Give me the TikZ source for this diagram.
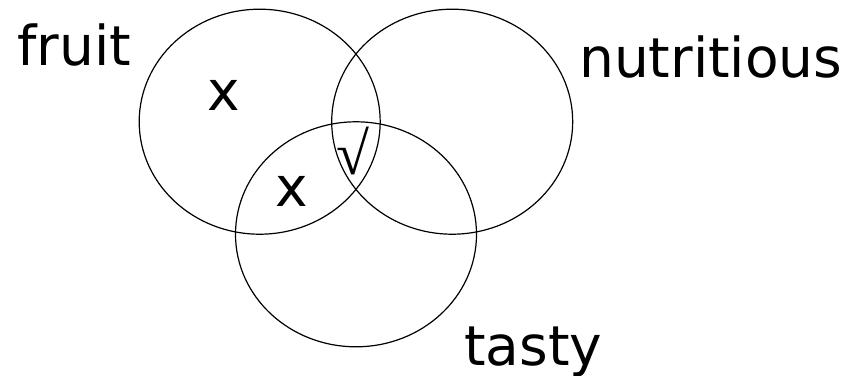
\documentclass[tikz,border=0pt]{standalone}
\usepackage{fontspec}
\setmainfont{DejaVu Sans}
\newfontfamily\serifsym{Liberation Serif}
\usetikzlibrary{shapes.geometric}
\begin{document}
\begin{tikzpicture}[x=1pt,y=-1pt,
  setring/.style={ellipse, draw=black, line width=1.2pt, inner sep=0pt, outer sep=0pt,
    minimum width=241pt, minimum height=225pt},
  setlabel/.style={inner sep=0pt, font=\fontsize{55}{60}\selectfont}]
\useasboundingbox (0,0) rectangle (862,375);
\node[setring] (fruitset) at (259.7,121.7) {};
\node[setring] (nutset) at (452.2,121.7) {};
\node[setring] (tastyset) at (356,234.3) {};
\node[setlabel, anchor=base west] (fruitlbl) at (17,65) {fruit};
\node[setlabel, anchor=base west] (nutlbl) at (579,77) {nutritious};
\node[setlabel, anchor=base west] (tastylbl) at (464,365) {tasty};
\node[setlabel, anchor=base] (xone) at (224,110) {x};
\node[setlabel, anchor=base] (xtwo) at (292,206) {x};
\node[inner sep=0pt, font=\serifsym\fontsize{60}{64}\selectfont, anchor=base] (tick) at (352.5,174) {√};
\end{tikzpicture}
\end{document}
